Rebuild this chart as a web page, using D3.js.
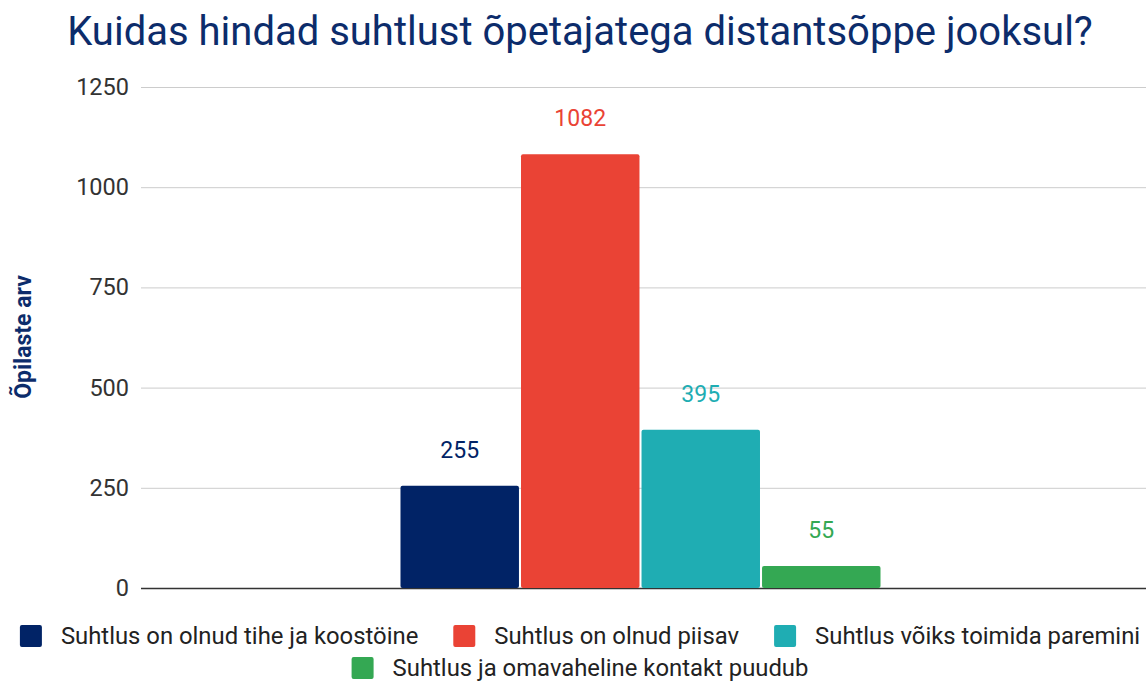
<!DOCTYPE html>
<html><head><meta charset="utf-8">
<script src="https://cdn.jsdelivr.net/npm/d3@7"></script>
<style>body{margin:0;background:#fff}svg{display:block;font-family:Roboto,"Noto Sans",sans-serif}</style>
</head><body>
<svg id="c" width="1146" height="681"></svg>
<script>
const title = "Kuidas hindad suhtlust õpetajatega distantsõppe jooksul?";
const yAxisTitle = "Õpilaste arv";
const categories = [""];
const seriesNames = ["Suhtlus on olnud tihe ja koostöine","Suhtlus on olnud piisav","Suhtlus võiks toimida paremini","Suhtlus ja omavaheline kontakt puudub"];
const seriesValues = [255, 1082, 395, 55];
const seriesColors = ["#012366","#ea4335","#1fadb3","#34a853"];
const yTicks = [0, 250, 500, 750, 1000, 1250];

const svg = d3.select("#c");
const W = 1146, H = 681;
const m = {left:141, right:0, top:87, bottom:93};

const y = d3.scaleLinear().domain([0,1250]).range([H-m.bottom, m.top]);
const x0 = d3.scaleBand().domain(categories).range([m.left, 1140]).paddingInner(0).paddingOuter(0.5406);
const x1 = d3.scaleBand().domain(seriesNames).range([0, x0.bandwidth()]).paddingInner(0.017);

svg.append("text").attr("x", 580).attr("y", 45).attr("text-anchor","middle")
  .attr("font-size", 40).attr("fill","#0c2c6b").text(title);

// grid
const grid = svg.append("g").attr("transform",`translate(${m.left},0)`)
  .call(d3.axisLeft(y).tickValues(yTicks).tickSize(-(W-m.left-m.right)).tickFormat(""));
grid.select(".domain").remove();
grid.selectAll(".tick line").attr("stroke", d=>d===0?"#333":"#ccc").attr("stroke-width",d=>d===0?1.5:1);

const yl = svg.append("g").attr("transform",`translate(${m.left-12},0)`)
  .call(d3.axisLeft(y).tickValues(yTicks).tickSize(0).tickPadding(0).tickFormat(d3.format("d")));
yl.select(".domain").remove();
yl.selectAll("text").attr("font-size",23.5).attr("fill","#333").attr("font-family","Roboto");

svg.append("text").attr("transform",`translate(31,337) rotate(-90)`).attr("text-anchor","middle")
  .attr("font-size",23).attr("font-weight","bold").attr("fill","#0c2c6b").text(yAxisTitle);

const data = seriesNames.map((s,i)=>({s, v:seriesValues[i], c:seriesColors[i]}));
const g = svg.append("g").attr("transform",`translate(${x0(categories[0])},0)`);
g.selectAll("rect").data(data).join("rect")
  .attr("x", d=>x1(d.s)).attr("width", x1.bandwidth())
  .attr("y", d=>y(d.v)).attr("height", d=>y(0)-y(d.v)).attr("rx",2)
  .attr("fill", d=>d.c);
g.selectAll("text.lbl").data(data).join("text").attr("class","lbl")
  .attr("x", d=>x1(d.s)+x1.bandwidth()/2).attr("y", d=>y(d.v)-28)
  .attr("text-anchor","middle").attr("font-size",23).attr("fill", d=>d.c).text(d=>d.v);

// legend
const rows = [[0,1,2],[3]];
const rowY = [636, 668];
const fs = 23.85;
rows.forEach((r,ri)=>{
  const lg = svg.append("g");
  let xpos = 0;
  r.forEach((idx,k)=>{
    const it = lg.append("g").attr("transform",`translate(${xpos},0)`);
    it.append("rect").attr("x",0).attr("y",rowY[ri]-11).attr("width",22).attr("height",22).attr("rx",2).attr("fill",seriesColors[idx]);
    const t = it.append("text").attr("x",41).attr("y",rowY[ri]+8).attr("font-size",fs).attr("fill","#222").text(seriesNames[idx]);
    const w = t.node().getComputedTextLength();
    xpos += 41 + w + 35;
  });
  const total = xpos - 35;
  lg.attr("transform",`translate(${580 - total/2},0)`);
});
</script>
</body></html>
